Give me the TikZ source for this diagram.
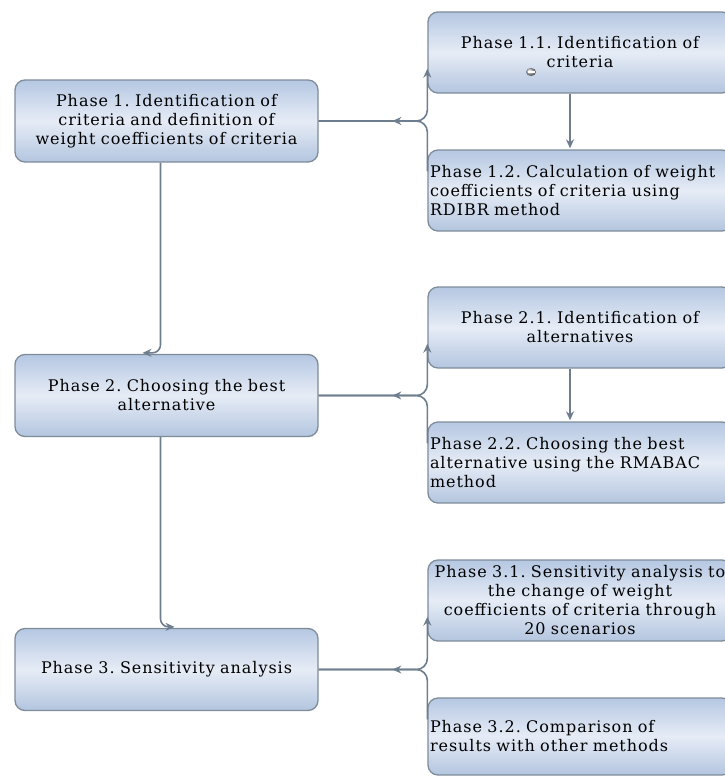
\documentclass[tikz,border=0pt]{standalone}
\usepackage{fontspec}
\setmainfont{DejaVu Serif}[LetterSpace=6]
\usepackage{tikz}
\usetikzlibrary{arrows.meta,calc}
\frenchspacing

\definecolor{boxtop}{HTML}{B5C7E2}
\definecolor{boxmid}{HTML}{E6ECF6}
\definecolor{boxbot}{HTML}{B3C5DF}
\definecolor{boxline}{HTML}{7E8C9A}
\definecolor{connline}{HTML}{6E7E8E}

\tikzset{
  phasebox/.style={draw=boxline, line width=1.3pt, rounded corners=10pt,
    top color=boxtop, bottom color=boxbot, middle color=boxmid,
    inner xsep=2pt, inner ysep=0pt, text width=#1,
    font=\fontsize{16}{19}\selectfont},
  phasebox/.default=299pt,
  mainbox/.style={phasebox=299pt, minimum height=82pt, align=center},
  subbox/.style={phasebox=300pt, minimum height=81pt},
  conn/.style={draw=connline, line width=1.6pt},
  tip/.style={-{Stealth[length=9pt,width=8pt]}}
}

\begin{document}
\begin{tikzpicture}[x=1pt, y=-1pt]
  \clip (0,0) rectangle (725,776);

  % main phases
  \node[mainbox] (p1) at (166.5,121) {Phase 1. Identification of\\criteria and definition of\\weight coefficients of criteria};
  \node[mainbox] (p2) at (166.5,395.5) {Phase 2. Choosing the best\\alternative};
  \node[mainbox] (p3) at (166.5,669.5) {Phase 3. Sensitivity analysis};

  % sub phases
  \node[subbox, align=center] (p11) at (580,52.5) {Phase 1.1. Identification of\\criteria};
  \node[subbox, align=left] (p12) at (580,190.5) {Phase 1.2. Calculation of weight\\coefficients of criteria using\\RDIBR method};
  \node[subbox, align=center] (p21) at (580,327.5) {Phase 2.1. Identification of\\alternatives};
  \node[subbox, align=left] (p22) at (580,462.5) {Phase 2.2. Choosing the best\\alternative using the RMABAC\\method};
  \node[subbox, align=center] (p31) at (580,600.5) {Phase 3.1. Sensitivity analysis to\\the change of weight\\coefficients of criteria through\\20 scenarios};
  \node[subbox, align=left, minimum height=77pt] (p32) at (580,736.5) {Phase 3.2. Comparison of\\results with other methods};

  % little mark in phase 1.1
  \shade[ball color=gray!55] (531,72) ellipse (5 and 4);
  \draw[white, line width=1.1pt] (527.5,72) -- (534.5,72);

  % links to sub phases
  \foreach \m/\a/\b in {p1/p11/p12, p2/p21/p22, p3/p31/p32}{
    \draw[conn, tip, rounded corners=11pt] (\m.east) -| ($(\a.south west)+(0,-25)$);
    \draw[conn, rounded corners=11pt] (\m.east) -| ($(\b.north west)+(0,22)$);
    \draw[conn, tip] ($(\m.east -| \a.west)+(-11,0)$) -- ($(\m.east -| \a.west)+(-35,0)$);
  }

  % sub phase order
  \draw[conn, tip] ($(p11.south)+(-10,0)$) -- ($(p12.north)+(-10,-1)$);
  \draw[conn, tip] ($(p21.south)+(-10,0)$) -- ($(p22.north)+(-10,-1)$);

  % main phase order
  \draw[conn, tip, rounded corners=8pt] ($(p1.south)+(-6,0)$) |- ($(p2.north)+(-24,-1)$);
  \draw[conn, tip, rounded corners=8pt] ($(p2.south)+(-6,0)$) |- ($(p3.north)+(8,-1)$);

\end{tikzpicture}
\end{document}
